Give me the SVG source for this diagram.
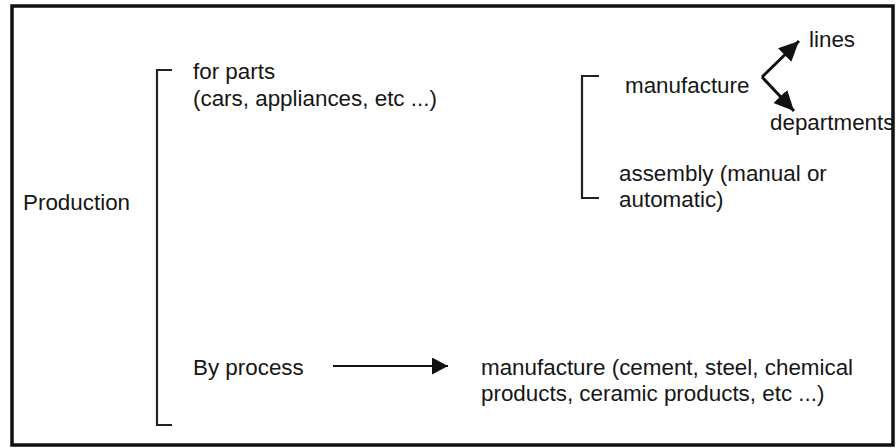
<svg xmlns="http://www.w3.org/2000/svg" width="896" height="448" viewBox="0 0 896 448">
  <style>
    .t { font-family: "Liberation Sans", Arial, sans-serif; font-size: 22.4px; fill: #161616; }
    .br { fill: none; stroke: #222; stroke-width: 2.2; }
    .ar { fill: none; stroke: #111; }
  </style>
  <defs>
    <marker id="headBig" markerUnits="userSpaceOnUse" markerWidth="22" markerHeight="20" refX="20" refY="9.5" orient="auto">
      <path d="M0,0 L20,9.5 L0,19 Z" fill="#111"/>
    </marker>
    <marker id="headMid" markerUnits="userSpaceOnUse" markerWidth="18" markerHeight="18" refX="16" refY="8.5" orient="auto">
      <path d="M0,0 L16,8.5 L0,17 Z" fill="#111"/>
    </marker>
  </defs>
  <rect x="0" y="0" width="896" height="448" fill="#fff"/>
  <rect id="frame" x="12" y="6" width="881" height="439" fill="none" stroke="#111" stroke-width="3.5"/>

  <g id="production">
    <text class="t" x="23" y="210">Production</text>
  </g>

  <g id="bracket-main">
    <path class="br" d="M172,70 H157 V425 H172"/>
  </g>

  <g id="for-parts">
    <text class="t" x="193" y="79">for parts</text>
    <text class="t" x="193" y="106">(cars, appliances, etc ...)</text>
  </g>

  <g id="bracket-parts">
    <path class="br" d="M599,76 H582 V198 H599"/>
  </g>

  <g id="manufacture">
    <text class="t" x="625" y="93">manufacture</text>
  </g>
  <g id="lines">
    <text class="t" x="809" y="47">lines</text>
  </g>
  <g id="departments">
    <text class="t" x="770" y="130">departments</text>
  </g>
  <g id="assembly">
    <text class="t" x="619" y="181">assembly (manual or</text>
    <text class="t" x="619" y="207">automatic)</text>
  </g>

  <g id="by-process">
    <text class="t" x="193" y="375">By process</text>
  </g>
  <g id="process-manufacture">
    <text class="t" x="481" y="375">manufacture (cement, steel, chemical</text>
    <text class="t" x="481" y="401">products, ceramic products, etc ...)</text>
  </g>

  <g id="connectors">
    <path class="ar" stroke-width="3" d="M762,77 L799,41" marker-end="url(#headBig)"/>
    <path class="ar" stroke-width="3" d="M762,77 L794,111" marker-end="url(#headBig)"/>
    <path class="ar" stroke-width="2.2" d="M333,366 L448,366" marker-end="url(#headMid)"/>
  </g>
</svg>
